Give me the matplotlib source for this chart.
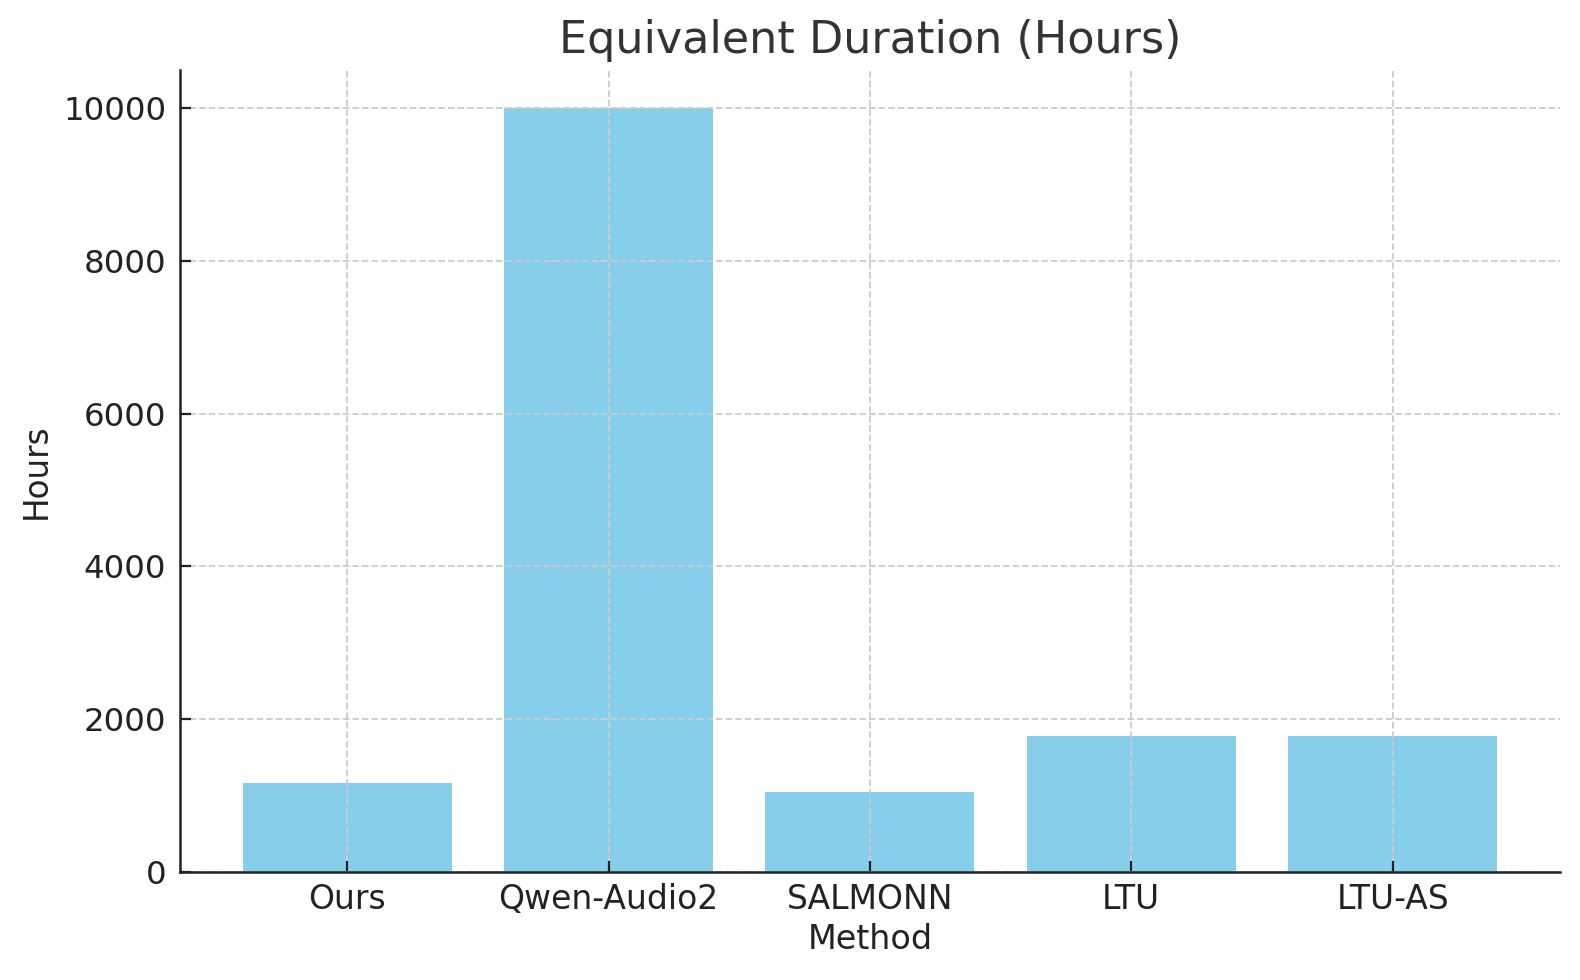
import matplotlib
matplotlib.use("Agg")
import matplotlib.pyplot as plt

methods = ["Ours", "Qwen-Audio2", "SALMONN", "LTU", "LTU-AS"]
hours = [1160, 10000, 1045, 1775, 1775]

plt.rcParams['font.family'] = ['DejaVu Sans']
fig = plt.figure(figsize=(15.8, 9.8), dpi=100)
ax = fig.add_axes([0.1139, 0.1102, 0.8734, 0.8184])

ax.bar(methods, hours, color="#87CEEB", width=0.8)

ax.grid(True, linestyle="--", color="#cccccc", linewidth=1.3)
for s in ["top", "right"]:
    ax.spines[s].set_visible(False)
for s in ["left", "bottom"]:
    ax.spines[s].set_color("#222222")
    ax.spines[s].set_linewidth(1.8)

ax.tick_params(direction="in", length=8, width=1.6, colors="#222222", pad=10)
ax.tick_params(axis="x", labelsize=23.8, pad=8)
ax.tick_params(axis="y", labelsize=23.3)
ax.set_title("Equivalent Duration (Hours)", fontsize=32, color="#333333", pad=12)
ax.set_xlabel("Method", fontsize=24, color="#222222", labelpad=5)
ax.set_ylabel("Hours", fontsize=23.5, color="#222222", labelpad=7)

fig.savefig("out.png", dpi=100)
